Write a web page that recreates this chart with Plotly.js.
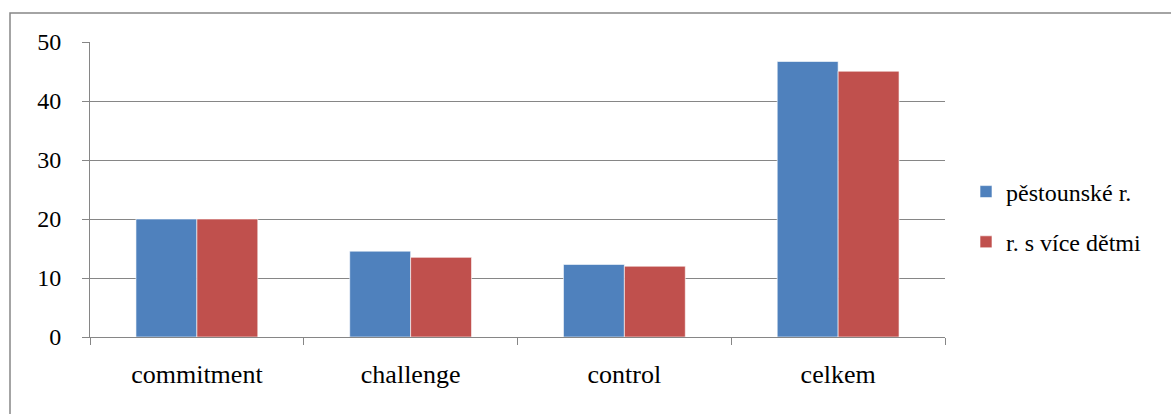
<!DOCTYPE html>
<html>
<head>
<meta charset="utf-8">
<script src="https://cdn.plot.ly/plotly-3.0.1.min.js"></script>
<style>html,body{margin:0;padding:0;background:#fff;} div{width:1171px;height:414px;}</style>
</head>
<body>
<div id="a"></div>
<script>
const categories = ["commitment", "challenge", "control", "celkem"];
const seriesNames = ["pěstounské r.", "r. s více dětmi"];
const pestounske = [20.0, 14.55, 12.3, 46.7];
const viceDetmi = [20.0, 13.5, 12.0, 45.05];
const yTicks = [0, 10, 20, 30, 40, 50];

const chartW = 1171, chartH = 414;
const mL = 90, mR = 226, mT = 42, mB = 77;
const plotW = chartW - mL - mR, plotH = chartH - mT - mB;
function toPaperX(x) { return (x - mL) / plotW; }
function toPaperY(y) { return (chartH - mB - y) / plotH; }

const traces = [
  {type: "bar", name: seriesNames[0], x: categories, y: pestounske, legendgroup: "a",
   marker: {color: "#4F81BD", line: {color: "rgba(255,255,255,0.6)", width: 1}}},
  {type: "bar", name: seriesNames[1], x: categories, y: viceDetmi, legendgroup: "b",
   marker: {color: "#C0504D", line: {color: "rgba(255,255,255,0.6)", width: 1}}}
];

const layout = {
  width: chartW, height: chartH,
  margin: {l: mL, r: mR, t: mT, b: mB},
  font: {family: "Liberation Serif", size: 24, color: "#000000"},
  barmode: "group", bargap: 0.43, bargroupgap: 0,
  showlegend: true,
  legend: {x: toPaperX(966), y: toPaperY(217), yanchor: "middle", xanchor: "left",
           font: {family: "Liberation Serif", size: 24, color: "#000000"},
           traceorder: "grouped", tracegroupgap: 16},
  xaxis: {type: "category", showgrid: false, showline: true, linecolor: "#868686",
          ticks: "outside", tickson: "boundaries", ticklen: 7, tickcolor: "#868686",
          tickfont: {family: "Liberation Serif", size: 26, color: "#000000"}, ticklabelstandoff: 14, zeroline: false},
  yaxis: {range: [0, 50], tickvals: yTicks,
          showgrid: true, gridcolor: "#868686",
          showline: true, linecolor: "#868686",
          ticks: "outside", ticklen: 7, tickcolor: "#868686",
          tickfont: {family: "Liberation Serif", size: 24, color: "#000000"}, ticklabelstandoff: 16, zeroline: false},
  shapes: [
    {type: "rect", xref: "paper", yref: "paper", x0: toPaperX(10), x1: toPaperX(1180), y0: toPaperY(13), y1: toPaperY(430),
     line: {color: "#868686", width: 1.5}, layer: "below"}
  ]
};

Plotly.newPlot("a", traces, layout, {staticPlot: true, displayModeBar: false}).then(function (gd) {
  gd.querySelectorAll("text").forEach(function (t) { t.style.fontFamily = "'Liberation Serif'"; });
});
</script>
</body>
</html>
